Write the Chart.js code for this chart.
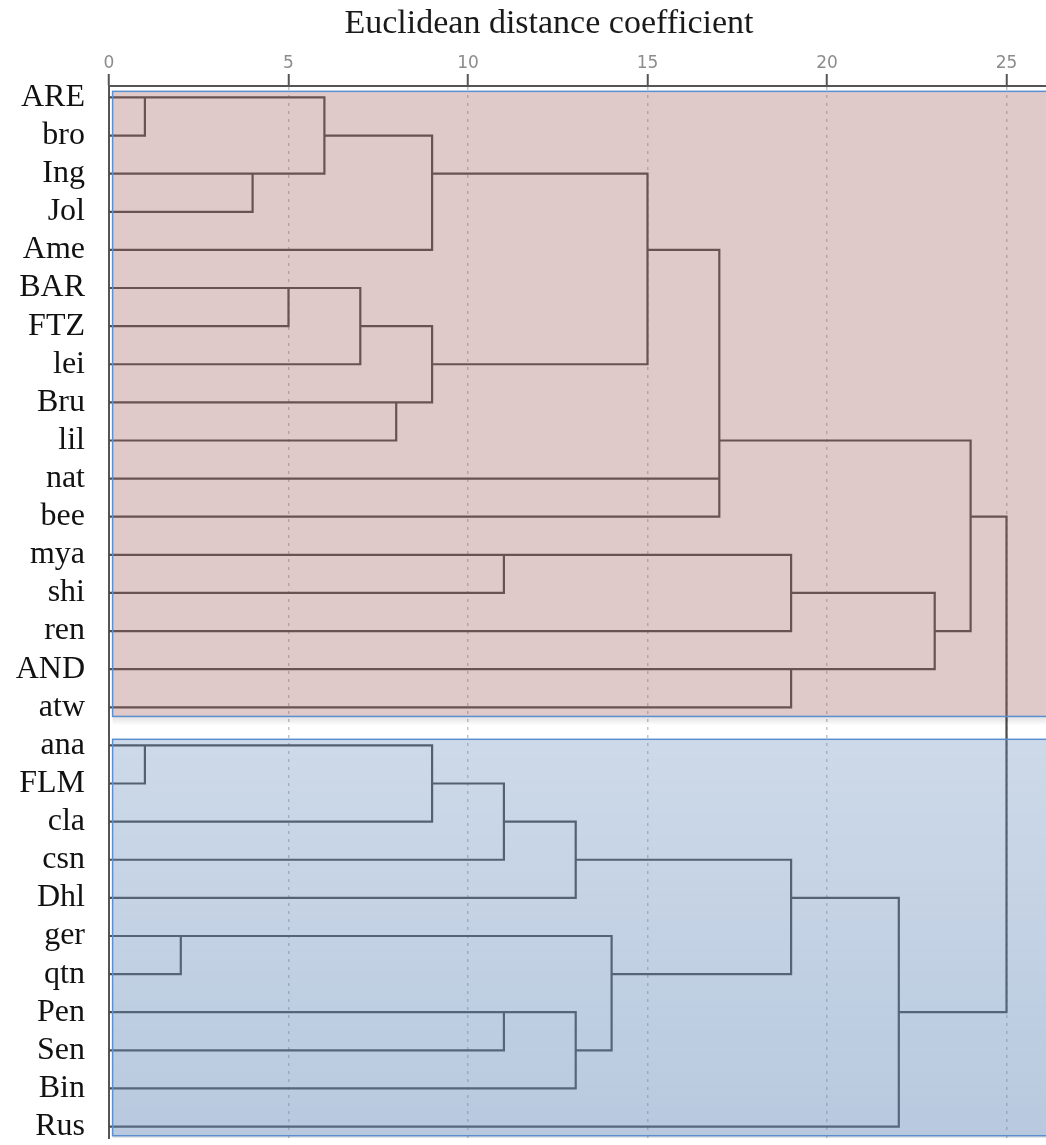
<!DOCTYPE html>
<html>
<head>
<meta charset="utf-8">
<script src="https://cdn.jsdelivr.net/npm/chart.js@4/dist/chart.umd.min.js"></script>
<style>
  body { margin: 0; background: #fff; }
  #wrap { position: relative; width: 1046px; height: 1145px; }
  #title {
    position: absolute; top: 0; left: 0; width: 1046px; box-sizing: border-box;
    padding-left: 52px; text-align: center;
    font-family: "Liberation Serif", "Times New Roman", serif; font-size: 34px;
    line-height: 44px; color: #1a1a1a;
  }
</style>
</head>
<body>
<div id="wrap">
  <div id="title">Euclidean distance coefficient</div>
  <canvas id="dendro"></canvas>
</div>
<script>
// leaves, top to bottom
var leaves = ['ARE', 'bro', 'Ing', 'Jol', 'Ame', 'BAR', 'FTZ', 'lei', 'Bru', 'lil', 'nat', 'bee', 'mya', 'shi',
  'ren', 'AND', 'atw', 'ana', 'FLM', 'cla', 'csn', 'Dhl', 'ger', 'qtn', 'Pen', 'Sen', 'Bin', 'Rus'];

// merge steps: node ids 0-27 are leaves, merge i creates node 28 + i
var mergeLeft  = [0, 17, 22, 2, 5, 28, 32, 8, 33, 34, 29, 12, 38, 24, 40, 41, 30, 36, 45, 46, 39, 15, 42, 48, 50, 47, 53];
var mergeRight = [1, 18, 23, 3, 6, 31, 7, 9, 4, 35, 19, 13, 20, 25, 21, 26, 43, 37, 10, 11, 14, 16, 44, 49, 27, 51, 52];
var mergeDistance = [1, 1, 2, 4, 5, 6, 7, 8, 9, 9, 9, 11, 11, 11, 13, 13, 14, 15, 17, 17, 19, 19, 19, 23, 22, 24, 25];

var distanceTicks = [0, 5, 10, 15, 20, 25];

// the two clusters shaded in the picture (first and last leaf row)
var groupFirst = [0, 17];
var groupLast = [16, 27];

// build the bracket segments (SPSS style: a merged cluster sits on the middle row)
var nodeRow = leaves.map(function(l, i) { return i; });
var nodeDist = leaves.map(function() { return 0; });
var segs = [];
for (var i = 0; i < mergeDistance.length; i++) {
  var a = mergeLeft[i], b = mergeRight[i], h = mergeDistance[i];
  segs.push({x: nodeDist[a], y: nodeRow[a]}, {x: h, y: nodeRow[a]}, {x: null, y: null});
  segs.push({x: nodeDist[b], y: nodeRow[b]}, {x: h, y: nodeRow[b]}, {x: null, y: null});
  segs.push({x: h, y: nodeRow[a]}, {x: h, y: nodeRow[b]}, {x: null, y: null});
  nodeRow.push(Math.floor((nodeRow[a] + nodeRow[b]) / 2));
  nodeDist.push(h);
}

// shaded cluster boxes, laid over the lines
var groupFills = [
  function() { return 'rgba(161,96,96,0.34)'; },
  function(ctx, top, bottom) {
    var g = ctx.createLinearGradient(0, top, 0, bottom);
    g.addColorStop(0, 'rgba(100,138,185,0.32)');
    g.addColorStop(1, 'rgba(100,138,185,0.46)');
    return g;
  }
];
var groupBoxes = {
  id: 'groupBoxes',
  afterDatasetsDraw: function(chart) {
    var ctx = chart.ctx, x = chart.scales.x, y = chart.scales.y, area = chart.chartArea;
    ctx.save();
    ctx.beginPath();
    ctx.rect(area.left, area.top, area.right - area.left, area.bottom - area.top);
    ctx.clip();
    for (var g = 0; g < groupFirst.length; g++) {
      var left = x.getPixelForValue(0.1);
      var top = y.getPixelForValue(groupFirst[g] - 0.16);
      var bottom = Math.min(y.getPixelForValue(groupLast[g] + 0.24), area.bottom - 1);
      var right = area.right + 5;
      // soft shadow under the box
      var sh = ctx.createLinearGradient(0, bottom, 0, bottom + 9);
      sh.addColorStop(0, 'rgba(0,0,0,0.12)');
      sh.addColorStop(1, 'rgba(0,0,0,0)');
      ctx.fillStyle = sh;
      ctx.fillRect(left, bottom, right - left, 9);
      ctx.fillStyle = groupFills[g](ctx, top, bottom);
      ctx.fillRect(left, top, right - left, bottom - top);
      ctx.strokeStyle = '#5b8fd0';
      ctx.lineWidth = 1.5;
      ctx.strokeRect(left, top, right - left, bottom - top);
    }
    ctx.restore();
  }
};

new Chart(document.getElementById('dendro'), {
  type: 'scatter',
  data: {
    datasets: [{
      data: segs,
      showLine: true,
      spanGaps: false,
      borderColor: '#4b4b4b',
      borderWidth: 2.2,
      borderCapStyle: 'square',
      pointRadius: 0,
      pointHoverRadius: 0
    }]
  },
  options: {
    responsive: true,
    maintainAspectRatio: false,
    animation: false,
    layout: { padding: { top: 46, bottom: 7, left: 0, right: 0 } },
    plugins: { legend: { display: false }, tooltip: { enabled: false } },
    scales: {
      x: {
        type: 'linear',
        position: 'top',
        min: 0,
        max: 26.1,
        afterBuildTicks: function(s) { s.ticks = distanceTicks.map(function(v) { return {value: v}; }); },
        afterFit: function(s) { s.height = 40; s.paddingLeft = 0; s.paddingRight = 0; },
        ticks: { padding: 0, color: '#8c8c8c', font: { family: 'DejaVu Sans', size: 17 } },
        grid: { color: '#c4c4c4', lineWidth: 1.5, tickColor: '#555', tickLength: 12, tickWidth: 2 },
        border: { color: '#555', width: 2, dash: [3, 5] }
      },
      y: {
        type: 'linear',
        reverse: true,
        min: -0.3,
        max: 27.3,
        afterBuildTicks: function(s) { s.ticks = leaves.map(function(l, i) { return {value: i}; }); },
        afterFit: function(s) { s.width = 109; s.paddingTop = 0; s.paddingBottom = 0; },
        ticks: {
          autoSkip: false,
          padding: 24,
          color: '#111',
          font: { family: 'Liberation Serif', size: 32 },
          callback: function(v) { return leaves[v]; }
        },
        grid: { display: false, drawTicks: false, tickLength: 0 },
        border: { color: '#555', width: 2 }
      }
    }
  },
  plugins: [groupBoxes]
});
</script>
</body>
</html>
